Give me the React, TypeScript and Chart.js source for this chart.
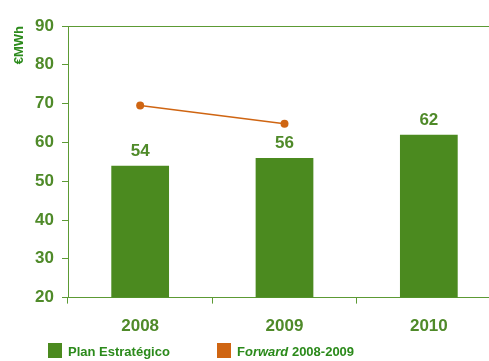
import React, { useEffect, useRef } from "react";
import { Chart, registerables } from "chart.js";

Chart.register(...registerables);

const categories = ["2008", "2009", "2010"];
const planValues = [54, 56, 62];
const forwardValues: (number | null)[] = [69.5, 64.8, null];
const yTicks = [20, 30, 40, 50, 60, 70, 80, 90];
const yTitle = "€MWh";

const BAR_GREEN = "#4b8a1f";
const TEXT_GREEN = "#4f8a29";
const AXIS_GREEN = "#5c9a34";
const LEGEND_GREEN = "#2b8a1b";
const ORANGE = "#cf6512";

const FONT = "'Liberation Sans', Arial, sans-serif";

const valueLabels = {
  id: "valueLabels",
  afterDatasetsDraw(chart: any) {
    const ctx = chart.ctx;
    const meta = chart.getDatasetMeta(0);
    ctx.save();
    ctx.font = `bold 17px ${FONT}`;
    ctx.fillStyle = TEXT_GREEN;
    ctx.textAlign = "center";
    ctx.textBaseline = "alphabetic";
    meta.data.forEach((bar: any, i: number) => {
      ctx.fillText(String(planValues[i]), bar.x, bar.y - 10);
    });
    ctx.restore();
  },
};

export default function App() {
  const ref = useRef<HTMLCanvasElement>(null);
  useEffect(() => {
    if (!ref.current) return;
    const chart = new Chart(ref.current, {
      type: "bar",
      data: {
        labels: categories,
        datasets: [
          {
            type: "bar",
            label: "Plan Estratégico",
            data: planValues,
            backgroundColor: BAR_GREEN,
            categoryPercentage: 1,
            barPercentage: 0.4,
            order: 2,
          },
          {
            type: "line",
            label: "Forward 2008-2009",
            data: forwardValues,
            borderColor: ORANGE,
            backgroundColor: ORANGE,
            borderWidth: 1.5,
            pointRadius: 4,
            pointBackgroundColor: ORANGE,
            pointBorderWidth: 0,
            order: 1,
          } as any,
        ],
      },
      options: {
        animation: false,
        responsive: false,
        layout: { padding: { top: 26, left: 0, right: 0, bottom: 11 } },
        plugins: {
          legend: { display: false },
          tooltip: { enabled: false },
        },
        scales: {
          x: {
            offset: true,
            grid: {
              offset: true,
              drawOnChartArea: false,
              tickLength: 6,
              tickColor: AXIS_GREEN,
            },
            border: { color: AXIS_GREEN, width: 1 },
            ticks: {
              color: TEXT_GREEN,
              padding: 13,
              font: { family: FONT, size: 17, weight: "bold" },
            },
          },
          y: {
            min: 20,
            max: 90,
            afterBuildTicks: (scale: any) => {
              scale.ticks = yTicks.map((v) => ({ value: v }));
            },
            afterFit: (scale: any) => {
              scale.width = 68;
            },
            grid: {
              drawOnChartArea: true,
              color: (c: any) => (c.tick && c.tick.value === 90 ? AXIS_GREEN : "rgba(0,0,0,0)"),
              tickColor: AXIS_GREEN,
              tickLength: 6,
            },
            border: { color: AXIS_GREEN, width: 1 },
            ticks: {
              color: TEXT_GREEN,
              padding: 8,
              font: { family: FONT, size: 17, weight: "bold" },
            },
            title: {
              display: true,
              text: yTitle,
              align: "end",
              color: LEGEND_GREEN,
              padding: { top: 12, bottom: 0 },
              font: { family: FONT, size: 13, weight: "bold" },
            },
          },
        },
      },
      plugins: [valueLabels],
    });
    return () => chart.destroy();
  }, []);

  const legendText: React.CSSProperties = {
    position: "absolute",
    fontFamily: FONT,
    fontWeight: "bold",
    fontSize: 13,
    color: LEGEND_GREEN,
    lineHeight: "14px",
    top: 345,
    whiteSpace: "nowrap",
  };

  return (
    <div
      style={{
        position: "absolute",
        left: 0,
        top: 0,
        width: 489,
        height: 361,
        overflow: "hidden",
        background: "#ffffff",
      }}
    >
      <canvas ref={ref} width={505} height={361} style={{ display: "block", width: 505, height: 361 }} />
      <div style={{ position: "absolute", left: 48, top: 343, width: 14, height: 15, background: BAR_GREEN }} />
      <div style={{ ...legendText, left: 68 }}>Plan Estratégico</div>
      <div style={{ position: "absolute", left: 217, top: 343, width: 14, height: 15, background: ORANGE }} />
      <div style={{ ...legendText, left: 237 }}>
        F<i>orward</i> 2008-2009
      </div>
    </div>
  );
}
